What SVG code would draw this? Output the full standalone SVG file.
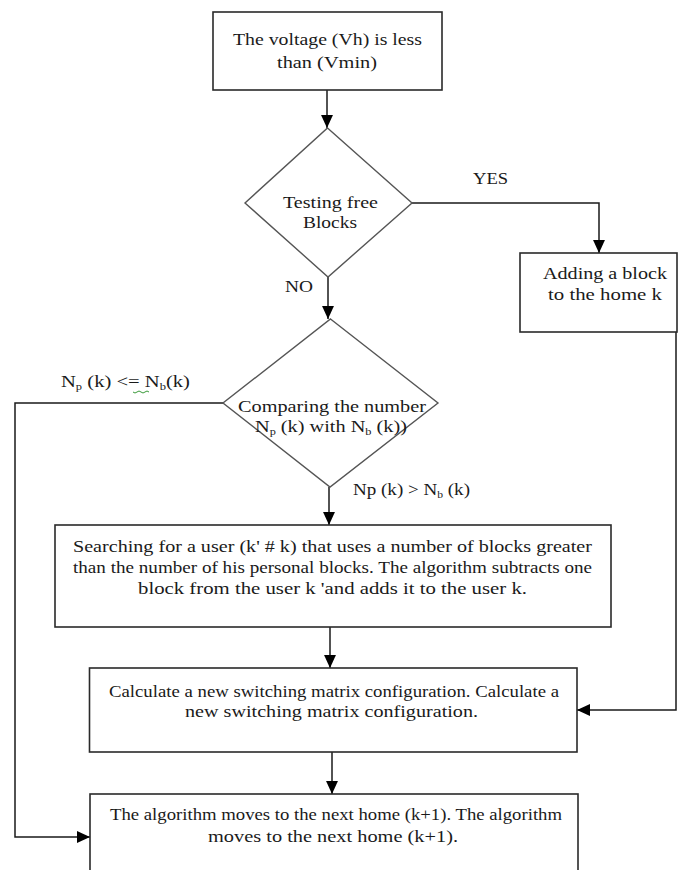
<svg xmlns="http://www.w3.org/2000/svg" width="678" height="870" viewBox="0 0 678 870">
<style>
.box{fill:#fff;stroke:#2a2a2a;stroke-width:1.6}
.dia{fill:#fff;stroke:#555;stroke-width:1.4}
.ln{fill:none;stroke:#1a1a1a;stroke-width:1.5}
.t{font-family:"Liberation Serif","Times New Roman",serif;font-size:16.5px;fill:#1a1a1a}
</style>
<defs>
<marker id="ah" viewBox="0 0 12 12" refX="12" refY="6" markerWidth="13" markerHeight="13" markerUnits="userSpaceOnUse" orient="auto">
<path d="M0,0.5 L12,6 L0,11.5 z" fill="#000"/>
</marker>
</defs>
<rect width="678" height="870" fill="#fff"/>
<g id="connectors">
<path class="ln" d="M327,90 V128" marker-end="url(#ah)"/>
<path class="ln" d="M412,203 H599 V253" marker-end="url(#ah)"/>
<path class="ln" d="M328,277 V319" marker-end="url(#ah)"/>
<path class="ln" d="M223,403 H15 V837 H90" marker-end="url(#ah)"/>
<path class="ln" d="M329,487 V525" marker-end="url(#ah)"/>
<path class="ln" d="M330,627 V668" marker-end="url(#ah)"/>
<path class="ln" d="M676,332 V710 H577" marker-end="url(#ah)"/>
<path class="ln" d="M332,752 V794" marker-end="url(#ah)"/>
</g>
<g id="labels">
<text class="t" x="473" y="184" textLength="35" lengthAdjust="spacingAndGlyphs">YES</text>
<text class="t" x="285" y="292" textLength="28" lengthAdjust="spacingAndGlyphs">NO</text>
<text class="t" x="61" y="387" textLength="129" lengthAdjust="spacingAndGlyphs">N<tspan font-size="10" dy="3">p</tspan><tspan dy="-3"> (k) &lt;= N</tspan><tspan font-size="10" dy="3">b</tspan><tspan dy="-3">(k)</tspan></text>
<path d="M133,392 q2,2 4,0 t4,0 t4,0 t4,0" fill="none" stroke="#3a9a3a" stroke-width="1"/>
<text class="t" x="353" y="495" textLength="117" lengthAdjust="spacingAndGlyphs">Np (k) &gt; N<tspan font-size="10" dy="3">b</tspan><tspan dy="-3"> (k)</tspan></text>
</g>
<g id="n1">
<rect class="box" x="213" y="12" width="229" height="78"/>
<text class="t" x="233" y="45" textLength="189" lengthAdjust="spacingAndGlyphs">The voltage (Vh) is less</text>
<text class="t" x="277" y="68" textLength="100" lengthAdjust="spacingAndGlyphs">than (Vmin)</text>
</g>
<g id="n2">
<polygon class="dia" points="327.5,128 412,203 328,277 245,203"/>
<text class="t" x="283" y="208" textLength="95" lengthAdjust="spacingAndGlyphs">Testing free</text>
<text class="t" x="303" y="228" textLength="54" lengthAdjust="spacingAndGlyphs">Blocks</text>
</g>
<g id="n3">
<rect class="box" x="520" y="253" width="157" height="79"/>
<text class="t" x="543" y="279" textLength="124" lengthAdjust="spacingAndGlyphs">Adding a block</text>
<text class="t" x="548" y="300" textLength="114" lengthAdjust="spacingAndGlyphs">to the home k</text>
</g>
<g id="n4">
<polygon class="dia" points="330.5,319 438,403 330,487 223,403"/>
<text class="t" x="238" y="412" textLength="188" lengthAdjust="spacingAndGlyphs">Comparing the number</text>
<text class="t" x="255" y="432" textLength="152" lengthAdjust="spacingAndGlyphs">N<tspan font-size="10" dy="3">p</tspan><tspan dy="-3"> (k) with N</tspan><tspan font-size="10" dy="3">b</tspan><tspan dy="-3"> (k))</tspan></text>
</g>
<g id="n5">
<rect class="box" x="55" y="525" width="556" height="102"/>
<text class="t" x="73" y="552" textLength="519" lengthAdjust="spacingAndGlyphs">Searching for a user (k' # k) that uses a number of blocks greater</text>
<text class="t" x="73" y="573" textLength="519" lengthAdjust="spacingAndGlyphs">than the number of his personal blocks. The algorithm subtracts one</text>
<text class="t" x="138" y="594" textLength="389" lengthAdjust="spacingAndGlyphs">block from the user k 'and adds it to the user k.</text>
</g>
<g id="n6">
<rect class="box" x="89.5" y="668" width="487.5" height="84"/>
<text class="t" x="109" y="697" textLength="450" lengthAdjust="spacingAndGlyphs">Calculate a new switching matrix configuration. Calculate a</text>
<text class="t" x="185" y="717" textLength="293" lengthAdjust="spacingAndGlyphs">new switching matrix configuration.</text>
</g>
<g id="n7">
<rect class="box" x="90" y="794" width="488" height="82"/>
<text class="t" x="110" y="820" textLength="452" lengthAdjust="spacingAndGlyphs">The algorithm moves to the next home (k+1). The algorithm</text>
<text class="t" x="208" y="842" textLength="250" lengthAdjust="spacingAndGlyphs">moves to the next home (k+1).</text>
</g>
</svg>
